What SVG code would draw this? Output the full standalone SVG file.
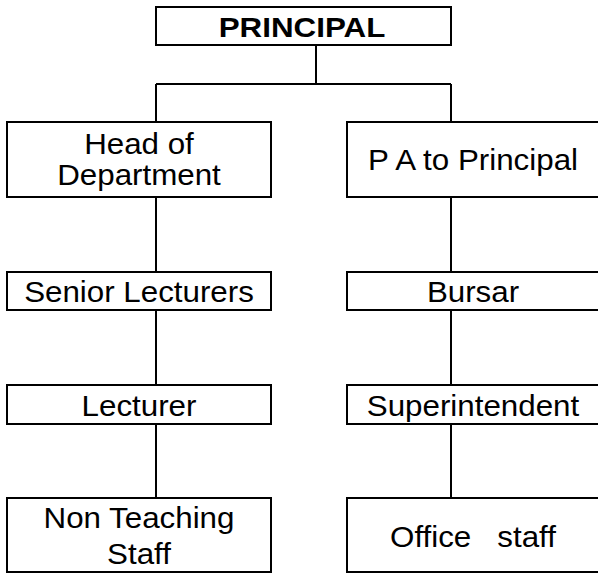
<svg xmlns="http://www.w3.org/2000/svg" width="598" height="573" viewBox="0 0 598 573">
<style>
.box{fill:#fff;stroke:#000;stroke-width:2}
.ln{fill:none;stroke:#000;stroke-width:2}
text{font-family:"Liberation Sans",Arial,sans-serif;font-size:29px;fill:#000;text-anchor:middle;white-space:pre}
.b{font-weight:bold;font-size:28px}
</style>
<rect width="598" height="573" fill="#fff"/>
<g id="connectors">
<path class="ln" d="M316 45V84M156 84H451M156 84V122M451 84V122M156 197V272M156 310V385M156 424V498M451 197V272M451 310V385M451 424V498"/>
</g>
<g id="principal"><rect class="box" x="156" y="7" width="295" height="38"/><text class="b" transform="translate(302,37) scale(1.12,1)">PRINCIPAL</text></g>
<g id="hod"><rect class="box" x="7" y="122" width="264" height="75"/><text transform="translate(139,154) scale(1.08,1)">Head of</text><text transform="translate(139,185) scale(1.08,1)">Department</text></g>
<g id="pa"><rect class="box" x="347" y="122" width="254" height="75"/><text transform="translate(473,170) scale(1.08,1)">P A to Principal</text></g>
<g id="senior"><rect class="box" x="7" y="272" width="264" height="38"/><text transform="translate(139,302) scale(1.08,1)">Senior Lecturers</text></g>
<g id="bursar"><rect class="box" x="347" y="272" width="254" height="38"/><text transform="translate(473,302) scale(1.08,1)">Bursar</text></g>
<g id="lecturer"><rect class="box" x="7" y="385" width="264" height="39"/><text transform="translate(139,416) scale(1.08,1)">Lecturer</text></g>
<g id="superintendent"><rect class="box" x="347" y="385" width="254" height="39"/><text transform="translate(473,416) scale(1.08,1)">Superintendent</text></g>
<g id="nonteaching"><rect class="box" x="7" y="498" width="264" height="74"/><text transform="translate(139,528) scale(1.08,1)">Non Teaching</text><text transform="translate(139,564) scale(1.08,1)">Staff</text></g>
<g id="office"><rect class="box" x="347" y="498" width="254" height="74"/><text transform="translate(473,547) scale(1.08,1)">Office   staff</text></g>
</svg>
